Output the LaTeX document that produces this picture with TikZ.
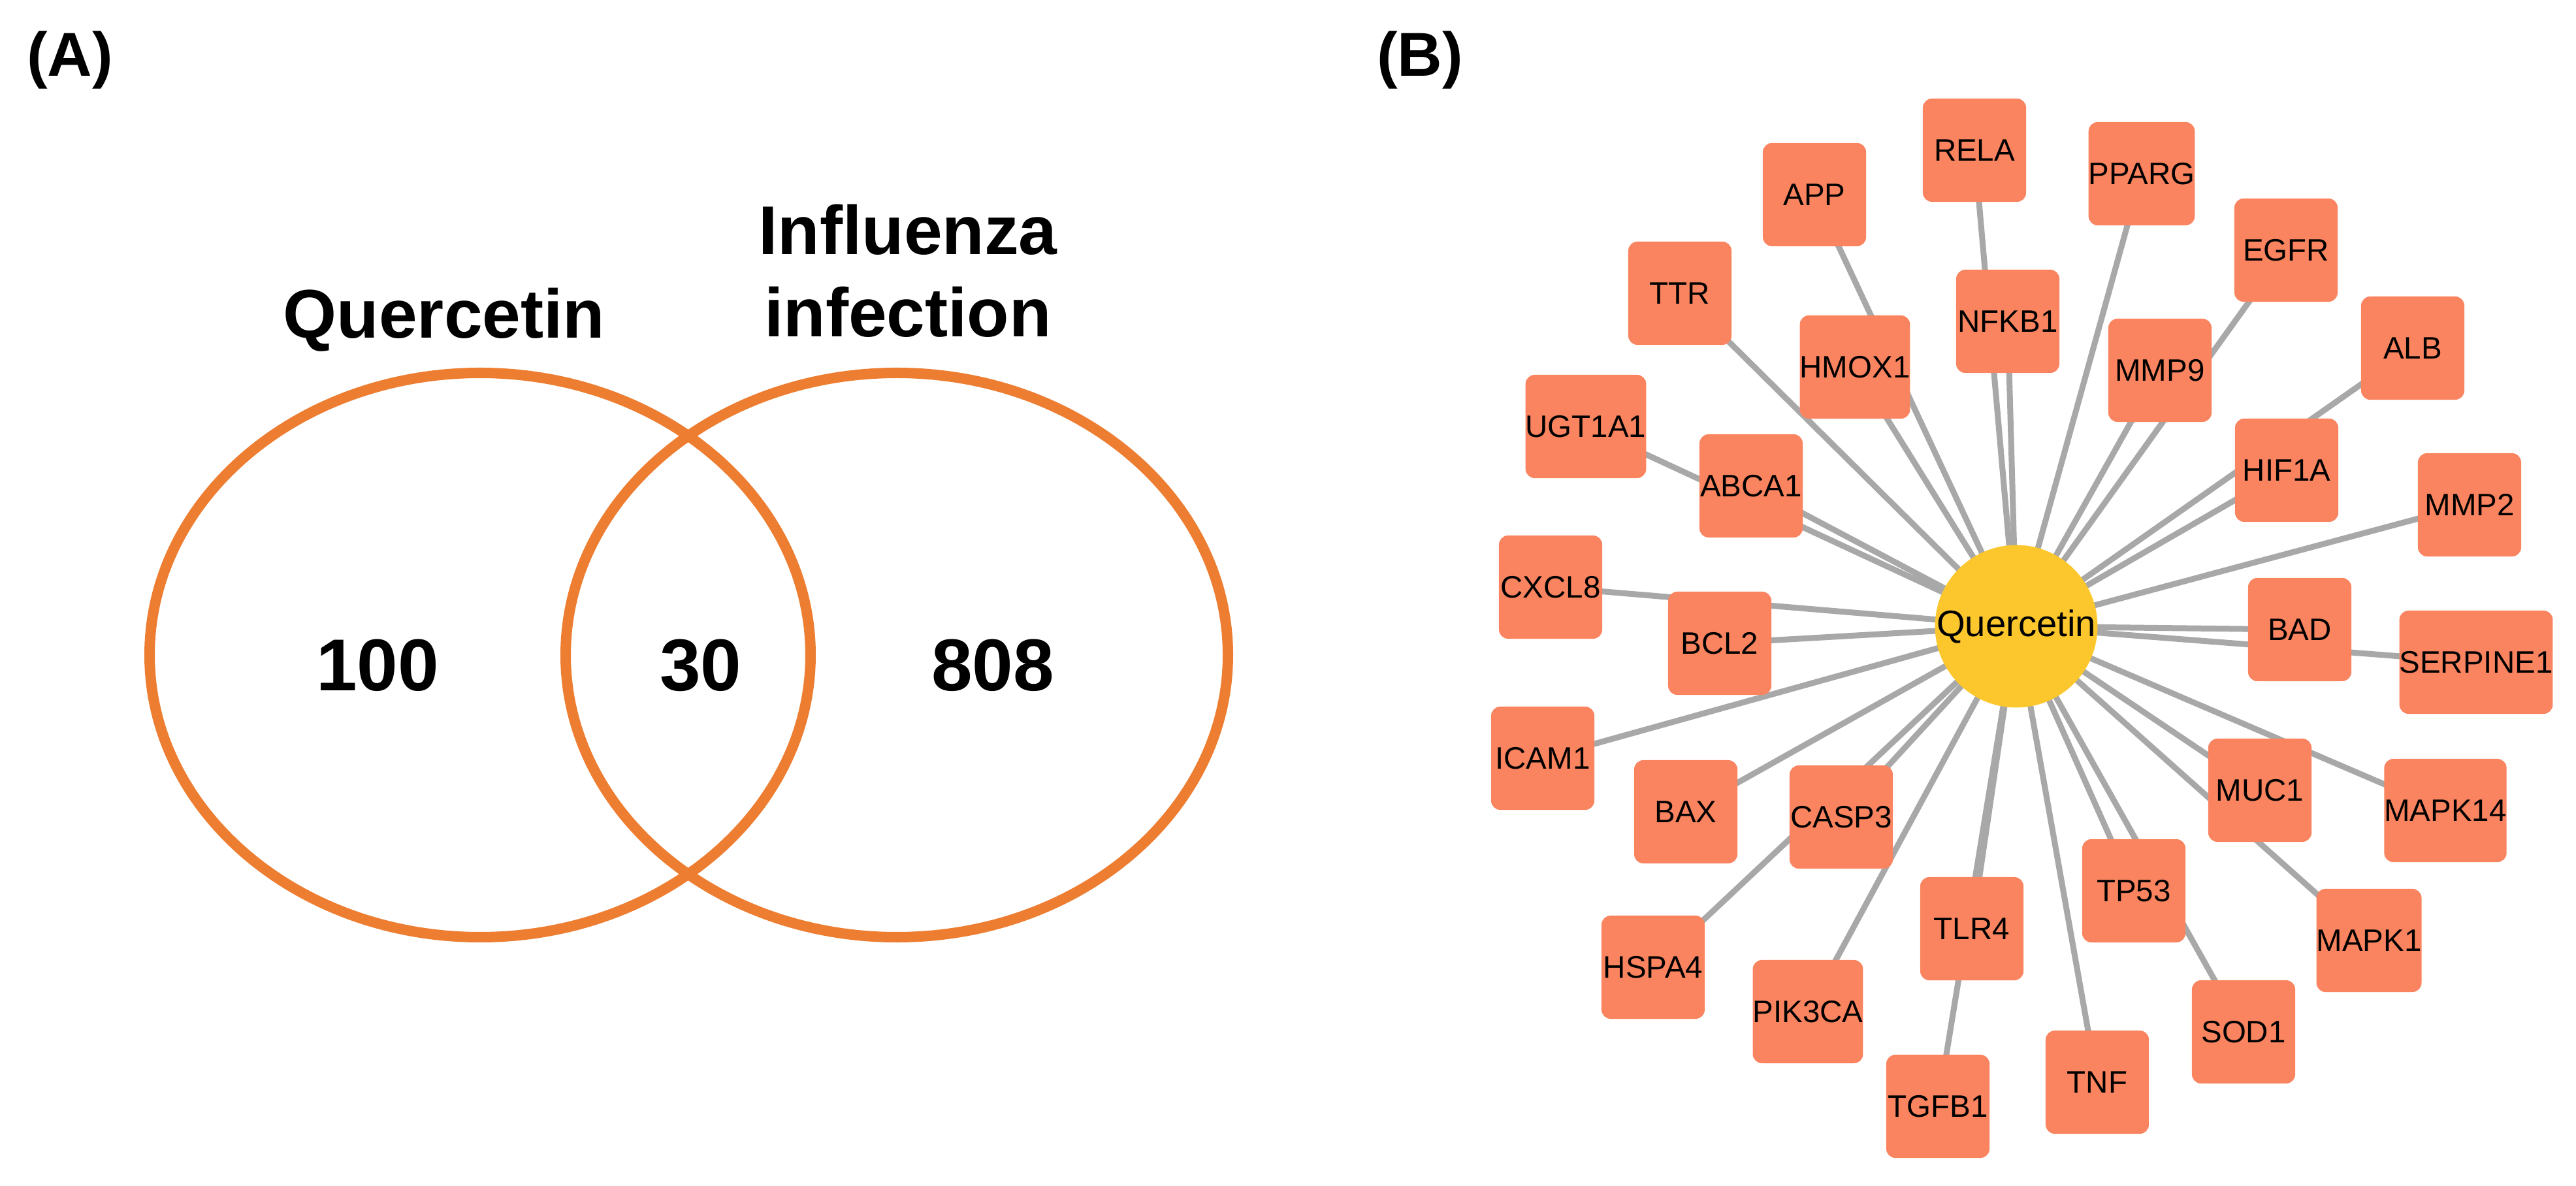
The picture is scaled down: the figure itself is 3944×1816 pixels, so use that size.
\documentclass[tikz,border=0pt]{standalone}
\usepackage{fontspec}
\setmainfont{Liberation Sans}
\usetikzlibrary{backgrounds}
\definecolor{vennorange}{HTML}{ED7D31}
\definecolor{genefill}{HTML}{F9845F}
\definecolor{hubfill}{HTML}{FCC72C}
\definecolor{edgegray}{HTML}{A8A8A8}
\tikzset{
  gene/.style={rectangle, rounded corners=1.4mm, fill=genefill, minimum size=15.8mm, inner sep=0pt, font=\fontsize{13.5}{14}\selectfont},
  hub/.style={circle, fill=hubfill, minimum size=15.6mm, inner sep=0pt, font=\fontsize{16}{17}\selectfont},
  link/.style={edgegray, line width=0.9mm},
  venn/.style={vennorange, line width=1.6mm},
  count/.style={font=\bfseries\fontsize{32}{34}\selectfont},
  setlabel/.style={font=\bfseries\fontsize{30}{36}\selectfont, align=center},
  panel/.style={font=\bfseries\fontsize{27}{30}\selectfont}
}
\begin{document}
\begin{tikzpicture}[x=0.01cm, y=-0.01cm]
  \useasboundingbox (0,0) rectangle (3944,1816);
  % panel (A): Venn diagram
  \node[panel] (labA) at (107,92) {(A)};
  \draw[venn] (735,1003) ellipse (506 and 432);
  \draw[venn] (1373,1003) ellipse (507 and 432);
  \node[setlabel] (setQ) at (680,490) {Quercetin};
  \node[setlabel] (setI) at (1390,415) {Influenza\\infection};
  \node[count] (only1) at (578,1019) {100};
  \node[count] (both) at (1073,1019) {30};
  \node[count] (only2) at (1520,1019) {808};
  % panel (B): network
  \node[panel] (labB) at (2174,92) {(B)};
  \node[hub] (hub) at (3087,959) {Quercetin};
  \foreach \name/\x/\y in {RELA/3023/230, APP/2778/298, PPARG/3279/266, EGFR/3500/383,
      TTR/2572/449, NFKB1/3074/492, HMOX1/2840/562, MMP9/3307/567, ALB/3694/533,
      UGT1A1/2428/653, ABCA1/2681/744, HIF1A/3501/720, MMP2/3781/773,
      CXCL8/2374/899, BCL2/2633/985, BAD/3521/964, SERPINE1/3791/1014,
      ICAM1/2362/1161, BAX/2581/1243, CASP3/2819/1251, MUC1/3460/1210,
      MAPK14/3744/1241, TP53/3267/1364, TLR4/3019/1422, MAPK1/3627/1440,
      HSPA4/2531/1481, PIK3CA/2768/1549, SOD1/3435/1580, TNF/3211/1657, TGFB1/2967/1694}
  {
    \node[gene] (\name) at (\x,\y) {\name};
    \begin{pgfonlayer}{background}
      \draw[link] (hub.center) -- (\name.center);
    \end{pgfonlayer}
  }
\end{tikzpicture}
\end{document}
